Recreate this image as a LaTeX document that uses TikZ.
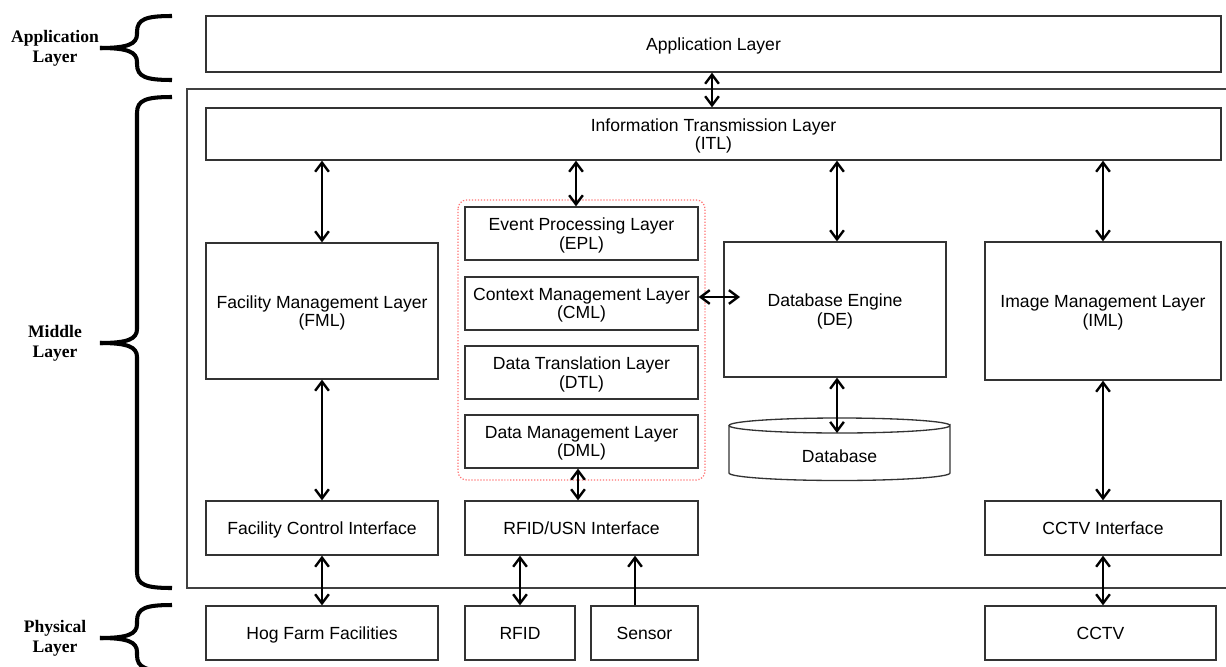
\documentclass[tikz,border=0pt]{standalone}
\usepackage{fontspec}
\setmainfont{Liberation Serif}
\setsansfont{Liberation Sans}
\usetikzlibrary{arrows.meta}

% curly brace opening to the right, tip pointing left
\newcommand\layerbrace[3]{%
  \draw[bracestyle] (172,#1) .. controls (146,#1) and (137,#1+3) .. (137,#1+16)
    -- (137,#2-14) .. controls (137,#2-4) and (128,#2) .. (100,#2);
  \draw[bracestyle] (172,#3) .. controls (146,#3) and (137,#3-3) .. (137,#3-16)
    -- (137,#2+14) .. controls (137,#2+4) and (128,#2) .. (100,#2);
}

\begin{document}
\begin{tikzpicture}[x=0.02cm,y=-0.02cm,
  box/.style={draw=black!80, line width=0.75pt, rectangle, inner sep=0pt,
    align=center, text depth=0pt, font=\sffamily\fontsize{10}{10.6}\selectfont},
  tip/.style={Straight Barb[length=5.2pt,width=7.8pt,line width=1.3pt]},
  conn/.style={line width=1.35pt, {Straight Barb[length=5.2pt,width=7.8pt]}-{Straight Barb[length=5.2pt,width=7.8pt]}},
  upconn/.style={line width=1.35pt, -{Straight Barb[length=5.2pt,width=7.8pt]}},
  bracestyle/.style={line width=2.3pt, line cap=butt},
  sidelabel/.style={align=center, font=\rmfamily\bfseries\fontsize{10}{11.3}\selectfont},
  frame/.style={draw=black!75, line width=0.8pt},
  group/.style={draw=red!55, densely dotted, line width=0.7pt, rounded corners=5pt}]

\useasboundingbox (0,0) rectangle (1226,666);

% layer labels with braces
\node[sidelabel] (lapp) at (55,48) {Application\\Layer};
\node[sidelabel] (lmid) at (55,343) {Middle\\Layer};
\node[sidelabel] (lphy) at (55,638) {Physical\\Layer};
\layerbrace{16}{48}{80}
\layerbrace{97}{343}{588}
\layerbrace{605}{638}{671}

% middle layer frame (open to the right)
\draw[frame] (1230,89) -- (187,89) -- (187,588) -- (1230,588);

% grouping of EPL/CML/DTL/DML
\draw[group] (458,200) rectangle (705,480);

% boxes
\node[box, minimum width=20.3cm, minimum height=1.12cm] (app) at (713.5,44) {Application Layer};
\node[box, minimum width=20.3cm, minimum height=1.04cm] (itl) at (713.5,134) {Information Transmission Layer\\(ITL)};
\node[box, minimum width=4.64cm, minimum height=2.72cm] (fml) at (322,311) {Facility Management Layer\\(FML)};
\node[box, minimum width=4.66cm, minimum height=1.06cm] (epl) at (581.5,233.5) {Event Processing Layer\\(EPL)};
\node[box, minimum width=4.66cm, minimum height=1.06cm] (cml) at (581.5,303.5) {Context Management Layer\\(CML)};
\node[box, minimum width=4.66cm, minimum height=1.06cm] (dtl) at (581.5,372.5) {Data Translation Layer\\(DTL)};
\node[box, minimum width=4.66cm, minimum height=1.06cm] (dml) at (581.5,441.5) {Data Management Layer\\(DML)};
\node[box, minimum width=4.44cm, minimum height=2.7cm] (de) at (835,309.5) {Database Engine\\(DE)};
\node[box, minimum width=4.72cm, minimum height=2.76cm] (iml) at (1103,311) {Image Management Layer\\(IML)};
\node[box, minimum width=4.64cm, minimum height=1.08cm] (fci) at (322,528) {Facility Control Interface};
\node[box, minimum width=4.66cm, minimum height=1.08cm] (rui) at (581.5,528) {RFID/USN Interface};
\node[box, minimum width=4.72cm, minimum height=1.08cm] (cci) at (1103,528) {CCTV Interface};
\node[box, minimum width=4.64cm, minimum height=1.08cm] (hog) at (322,633) {Hog Farm Facilities};
\node[box, minimum width=2.2cm, minimum height=1.08cm] (rfid) at (520,633) {RFID};
\node[box, minimum width=2.14cm, minimum height=1.08cm] (sensor) at (644.5,633) {Sensor};
\node[box, minimum width=4.62cm, minimum height=1.08cm] (cctv) at (1100.5,633) {CCTV};

% database cylinder
\draw[draw=black!80, line width=0.75pt, fill=white]
  (729,425.5) -- (729,473) arc[start angle=180, end angle=360, x radius=110.5, y radius=-7.5]
  -- (950,425.5) arc[start angle=0, end angle=360, x radius=110.5, y radius=7.5];
\node[font=\sffamily\fontsize{10}{10.6}\selectfont, text depth=0pt] (db) at (839.5,456) {Database};
\coordinate (dbtop) at (837,433);
\coordinate (dein) at (740,297);

% connectors
\draw[conn] (app.south -| 712,0) -- (itl.north -| 712,0);
\draw[conn] (itl.south -| fml.north) -- (fml.north);
\draw[conn] (itl.south -| 576,0) -- (epl.north -| 576,0);
\draw[conn] (itl.south -| 837,0) -- (de.north -| 837,0);
\draw[conn] (itl.south -| iml.north) -- (iml.north);
\draw[conn] (cml.east |- dein) -- (dein);
\draw[conn] (de.south -| dbtop) -- (dbtop);
\draw[conn] (fml.south) -- (fci.north);
\draw[conn] (dml.south -| 578,0) -- (rui.north -| 578,0);
\draw[conn] (iml.south) -- (cci.north);
\draw[conn] (fci.south) -- (hog.north);
\draw[conn] (rfid.north) -- (rui.south -| rfid.north);
\draw[upconn] (sensor.north -| 635,0) -- (rui.south -| 635,0);
\draw[conn] (cci.south) -- (cci.south |- cctv.north);

\end{tikzpicture}
\end{document}
